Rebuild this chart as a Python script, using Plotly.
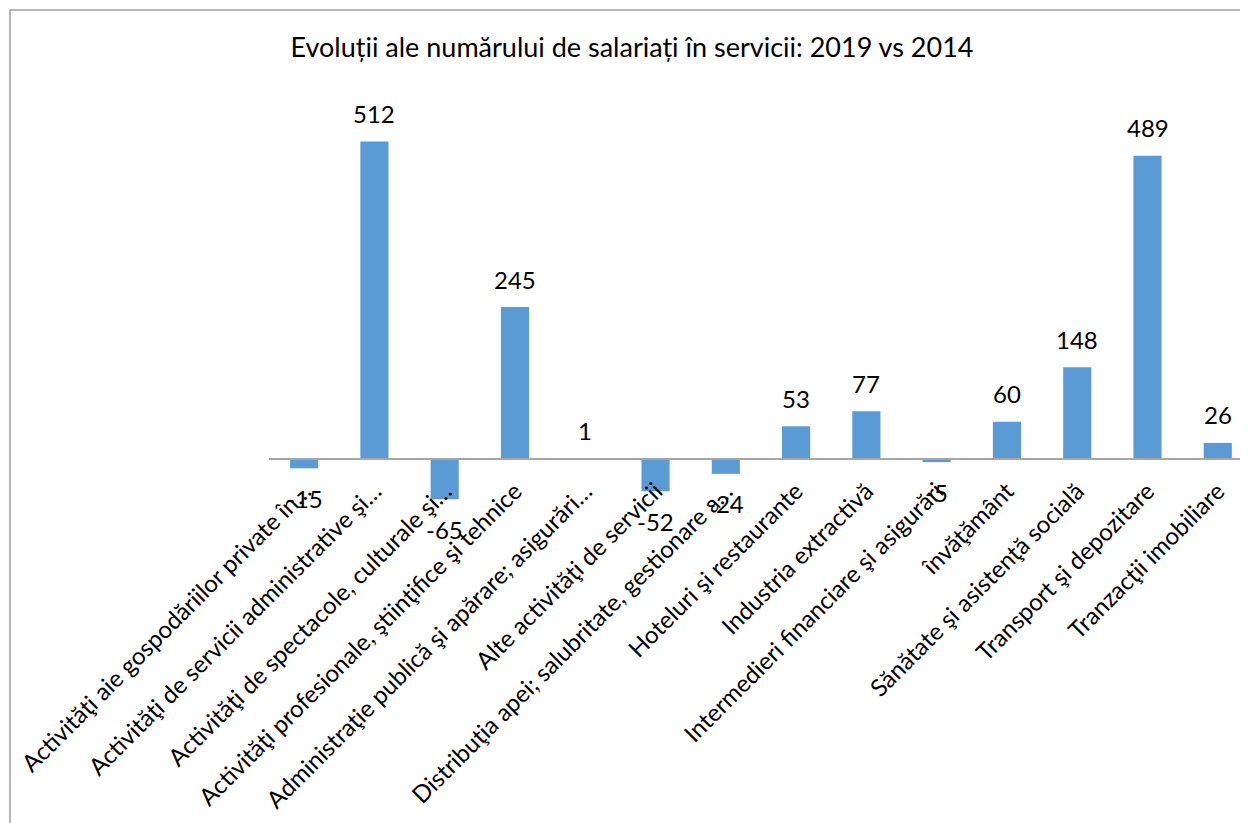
import plotly.graph_objects as go

categories = [
    "Activităţi aie gospodăriilor private în…",
    "Activităţi de servicii administrative şi…",
    "Activităţi de spectacole, culturale şi…",
    "Activităţi profesionale, ştiinţifice şi tehnice",
    "Administraţie publică şi apărare; asigurări…",
    "Alte activităţi de servicii",
    "Distribuţia apei; salubritate, gestionare a…",
    "Hoteluri şi restaurante",
    "Industria extractivă",
    "Intermedieri financiare şi asigurări",
    "învăţământ",
    "Sănătate şi asistenţă socială",
    "Transport şi depozitare",
    "Tranzacţii imobiliare",
]
values = [-15, 512, -65, 245, 1, -52, -24, 53, 77, -5, 60, 148, 489, 26]
title_text = "Evoluții ale numărului de salariați în servicii: 2019 vs 2014"

FONT = "Lato, Open Sans, sans-serif"
OFF = 8  # default page body margin
W, H = 1248 - OFF, 823 - OFF
L, R, T = 269 - OFF, 0, 87 - OFF
B = H - (521 - OFF)
y_min, y_max = -100, 600

fig = go.Figure()
fig.add_trace(go.Bar(
    x=list(range(len(categories))), y=values,
    marker=dict(color="#5B9BD5", line=dict(width=0)),
    width=0.4, hoverinfo="skip",
))

for i, v in enumerate(values):
    fig.add_annotation(
        x=i, y=v, text=str(v), showarrow=False,
        yshift=28 if v >= 0 else -30, yanchor="middle", xanchor="center",
        font=dict(family=FONT, size=24, color="#000000"),
    )

plot_w = W - L - R
plot_h = H - T - B
def px_x(px):
    return (px - OFF - L) / plot_w
def px_y(py):
    return (H - B - (py - OFF)) / plot_h

fig.add_shape(type="rect", xref="paper", yref="paper",
              x0=px_x(10), x1=px_x(1270), y0=px_y(845), y1=px_y(10),
              line=dict(color="#A0A0A0", width=1.5), fillcolor="rgba(0,0,0,0)", layer="below")

zero_pos = (0 - y_min) / (y_max - y_min)

fig.update_layout(
    width=W, height=H,
    margin=dict(l=L, r=R, t=T, b=B, autoexpand=False),
    paper_bgcolor="white", plot_bgcolor="white",
    showlegend=False,
    title=dict(text=title_text, x=(632 - OFF) / W, xanchor="center", xref="container",
               y=1 - (48 - OFF) / H, yanchor="middle", yref="container",
               font=dict(family=FONT, size=27, color="#000000")),
    xaxis=dict(
        tickmode="array", tickvals=list(range(len(categories))), ticktext=categories,
        range=[-0.5, 13.43], tickangle=-45,
        tickfont=dict(family=FONT, size=24, color="#000000"),
        showgrid=False, zeroline=False,
        showline=True, linecolor="#A6A6A6", linewidth=1.5,
        anchor="free", position=zero_pos, ticks="",
        ticklabelstandoff=8, ticklabeloverflow="allow",
    ),
    yaxis=dict(range=[y_min, y_max], visible=False, showgrid=False, zeroline=False),
)

fig.write_html("out.html")
